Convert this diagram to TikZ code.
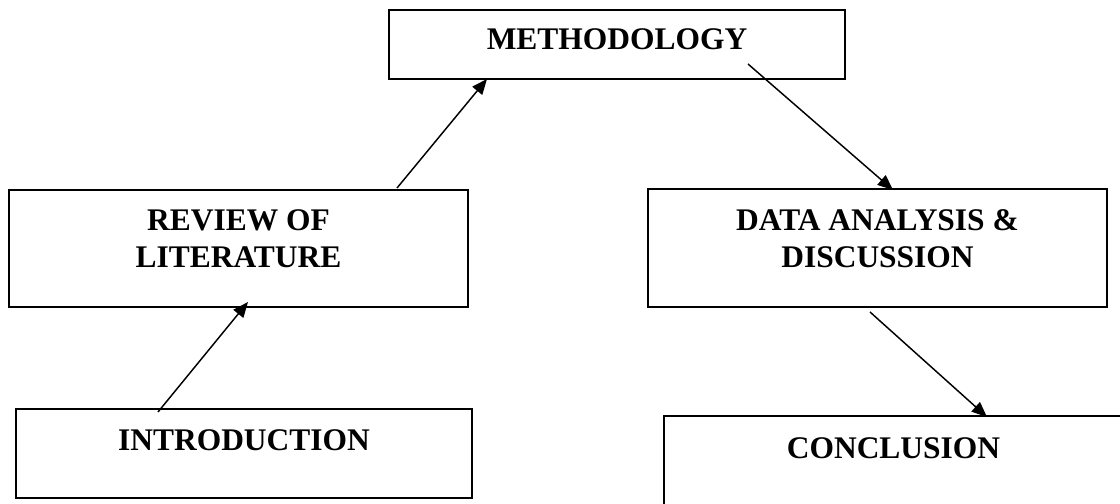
\documentclass[tikz,border=0pt]{standalone}
\usepackage{fontspec}
\setmainfont{Liberation Serif}
\usetikzlibrary{arrows.meta,calc}
\begin{document}
\begin{tikzpicture}[x=0.75pt,y=-0.75pt,
  box/.style n args={2}{draw=black,line width=1.5pt,rectangle,inner sep=0pt,outer sep=0pt,
     minimum width=#1*0.75pt,minimum height=#2*0.75pt},
  lbl/.style={anchor=base,align=center,inner sep=0pt,
     font=\fontsize{23.6}{27.4}\selectfont\bfseries},
  arr/.style={line width=1.1pt,-{Triangle[length=11.5pt,width=9.5pt]}}]
\useasboundingbox (0,0) rectangle (1120,503);
\clip (0,0) rectangle (1120,503);
% boxes
\node[box={456}{69}]  (m) at (617,44.5) {};
\node[box={459}{117}] (r) at (238.5,248.5) {};
\node[box={459}{118}] (d) at (877.5,248) {};
\node[box={456}{89}]  (i) at (244,453.5) {};
\node[box={461}{94}]  (c) at (894.5,463) {};
% labels
\node[lbl] (mt) at (617,50) {METHODOLOGY};
\node[lbl] (rt) at (238.5,267) {REVIEW OF\\LITERATURE};
\node[lbl] (dt) at (877.5,267) {DATA ANALYSIS \&\\DISCUSSION};
\node[lbl] (it) at (244,450) {INTRODUCTION};
\node[lbl] (ct) at (893.5,458) {CONCLUSION};
% connectors
\draw[arr] ($(i.north west)+(142,3)$) -- ($(r.south west)+(239,-5)$);
\draw[arr] ($(r.north west)+(388,-2)$) -- ($(m.south west)+(98,0)$);
\draw[arr] ($(m.south west)+(359,-15)$) -- ($(d.north west)+(245,1)$);
\draw[arr] ($(d.south west)+(222,5)$) -- ($(c.north west)+(323,1)$);
\end{tikzpicture}
\end{document}
